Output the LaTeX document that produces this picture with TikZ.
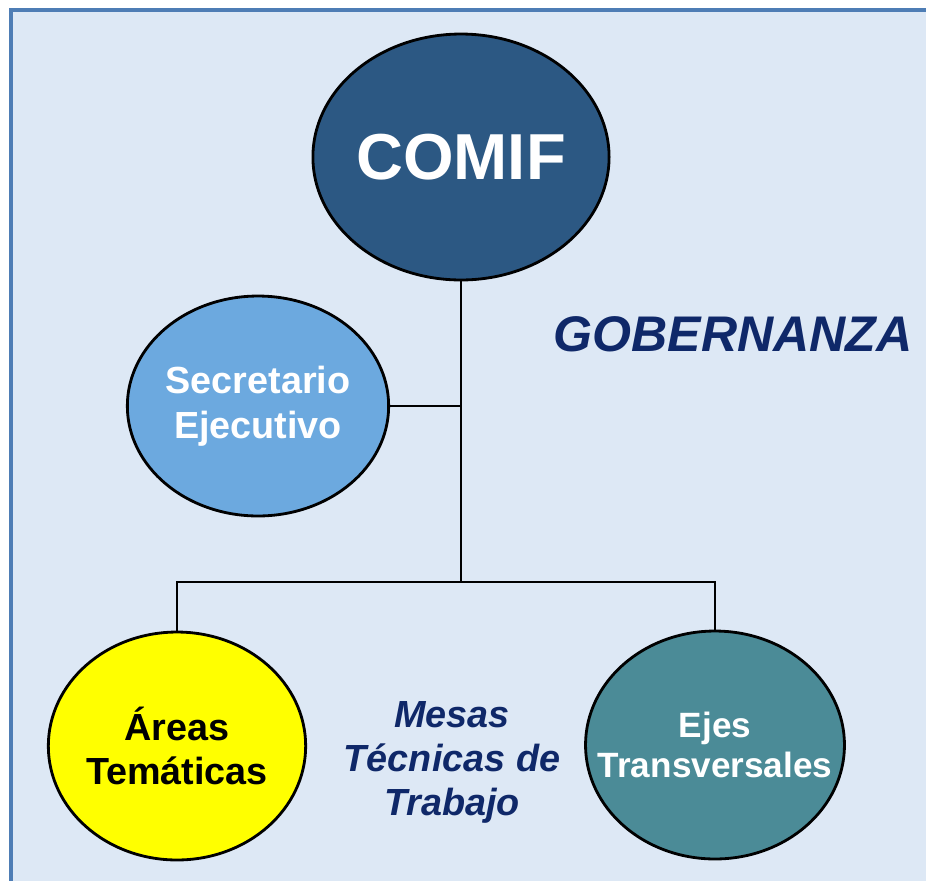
\documentclass[tikz,border=0pt]{standalone}
\usepackage{fontspec}
\setmainfont{Liberation Sans}
\usetikzlibrary{shapes.geometric}
\definecolor{fondo}{HTML}{DDE8F5}
\definecolor{marco}{HTML}{4E7DB5}
\definecolor{comif}{HTML}{2C5883}
\definecolor{secre}{HTML}{6CA9DF}
\definecolor{areas}{HTML}{FFFF00}
\definecolor{ejes}{HTML}{4B8B97}
\definecolor{navy}{HTML}{0F2869}

\begin{document}
\begin{tikzpicture}[x=0.02cm,y=-0.02cm]
      \tikzstyle{ball}=[shape=ellipse,draw=black,line width=1.6pt,inner sep=0pt,align=center,font=\bfseries];
      \tikzstyle{tree}=[draw=black,line width=1.6pt];
      \tikzstyle{label}=[text=navy,align=center,font=\bfseries\itshape];

      \useasboundingbox (0,0) rectangle (926,880);
      \path[fill=fondo,draw=marco,line width=1.8pt] (11,10) rectangle (940,900);

      \node[ball,fill=comif,text=white,minimum width=5.32cm,minimum height=4.92cm,font=\bfseries\fontsize{37}{40}\selectfont](COMIF) at (461,157) {COMIF};
      \node[ball,fill=secre,text=white,minimum width=4.9cm,minimum height=4.4cm,font=\bfseries\fontsize{21.5}{25.5}\selectfont](SE) at (258,406) {Secretario\\Ejecutivo};
      \node[ball,fill=areas,text=black,minimum width=5.14cm,minimum height=4.56cm,font=\bfseries\fontsize{21.5}{25}\selectfont](AT) at (177,746) {Áreas\\Temáticas};
      \node[ball,fill=ejes,text=white,minimum width=5.18cm,minimum height=4.56cm,font=\bfseries\fontsize{20}{23}\selectfont](ET) at (715,745) {Ejes\\\makebox[0pt]{Transversales}};

      \node[label,font=\bfseries\itshape\fontsize{28.5}{32}\selectfont](GOB) at (733,334) {GOBERNANZA};
      \node[label,font=\bfseries\itshape\fontsize{21.5}{25}\selectfont](MTT) at (452,762) {Mesas\\Técnicas de\\Trabajo};

      \coordinate (j1) at (461,406);
      \coordinate (j2) at (461,582);

      \path[tree] (COMIF.south) -- (j2);
      \path[tree] (SE.east) -- (j1);
      \path[tree] (AT.north) |- (j2);
      \path[tree] (j2) -| (ET.north);

\end{tikzpicture}
\end{document}
